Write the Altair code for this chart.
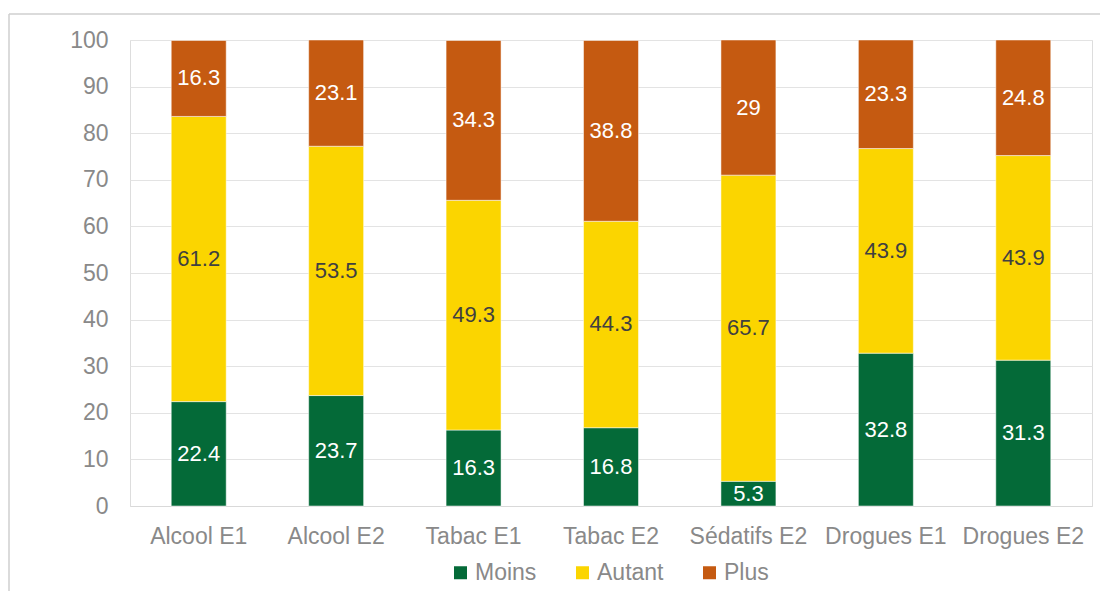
import altair as alt
import pandas as pd

categories = ["Alcool E1", "Alcool E2", "Tabac E1", "Tabac E2", "Sédatifs E2", "Drogues E1", "Drogues E2"]
series = ["Moins", "Autant", "Plus"]
moins = [22.4, 23.7, 16.3, 16.8, 5.3, 32.8, 31.3]
autant = [61.2, 53.5, 49.3, 44.3, 65.7, 43.9, 43.9]
plus = [16.3, 23.1, 34.3, 38.8, 29, 23.3, 24.8]
colors = ["#046A38", "#FBD500", "#C55A11"]
label_colors = ["#FFFFFF", "#404040", "#FFFFFF"]

rows = []
for s_i, (name, vals) in enumerate(zip(series, [moins, autant, plus])):
    for c, v in zip(categories, vals):
        rows.append({"cat": c, "series": name, "value": v, "order": s_i,
                     "label": (f"{v:g}"), "lc": label_colors[s_i]})
df = pd.DataFrame(rows)

FONT = "Liberation Sans"
GRAY = "#898989"

base = alt.Chart(df).transform_stack(
    stack="value", groupby=["cat"], as_=["y0", "y1"], sort=[alt.SortField("order")]
).transform_calculate(
    ytop="min(datum.y1, 100)", mid="(datum.y0 + min(datum.y1,100))/2"
)

x = alt.X("cat:N", sort=categories, title=None,
          scale=alt.Scale(paddingInner=0.6, paddingOuter=0.3),
          axis=alt.Axis(labelAngle=0, labelFontSize=23, labelColor=GRAY, labelFont=FONT,
                        ticks=False, domainColor="#d9d9d9", domainWidth=1, labelPadding=19))

bars = base.mark_bar(stroke="white", strokeWidth=0.5).encode(
    x=x,
    y=alt.Y("y0:Q", scale=alt.Scale(domain=[0, 100]), title=None,
            axis=alt.Axis(values=list(range(0, 101, 10)), labelFontSize=23, labelColor=GRAY,
                          labelFont=FONT, ticks=False, domain=False, gridColor="#e3e3e3",
                          labelPadding=22)),
    y2="ytop:Q",
    color=alt.Color("series:N", scale=alt.Scale(domain=series, range=colors),
                    sort=series,
                    legend=alt.Legend(title=None, orient="none", direction="horizontal",
                                      legendX=319, legendY=521,
                                      symbolType="square", symbolSize=169, symbolStrokeWidth=0,
                                      labelFontSize=23, labelColor=GRAY, labelFont=FONT,
                                      columnPadding=34, symbolOffset=0, labelOffset=3)),
)

labels = base.mark_text(fontSize=22, font=FONT).encode(
    x=alt.X("cat:N", sort=categories),
    y=alt.Y("mid:Q"),
    text="label:N",
    color=alt.Color("lc:N", scale=None),
)

frame_top = alt.Chart(pd.DataFrame({"a": [0]})).mark_rule(color="#cfcfcf", strokeWidth=1.5).encode(
    x=alt.value(-121), x2=alt.value(1100), y=alt.value(-26))
frame_left = alt.Chart(pd.DataFrame({"a": [0]})).mark_rule(color="#cfcfcf", strokeWidth=1.5).encode(
    x=alt.value(-121), y=alt.value(-26), y2=alt.value(700))

chart = alt.layer(bars, labels, frame_top, frame_left).properties(
    width=962, height=466,
    autosize=alt.AutoSizeParams(type="none"),
    padding={"left": 122, "top": 32, "right": 8, "bottom": 85},
).configure_view(stroke=None).configure(background="white")

chart.save("out.html", embed_options={"renderer": "svg", "actions": False})
